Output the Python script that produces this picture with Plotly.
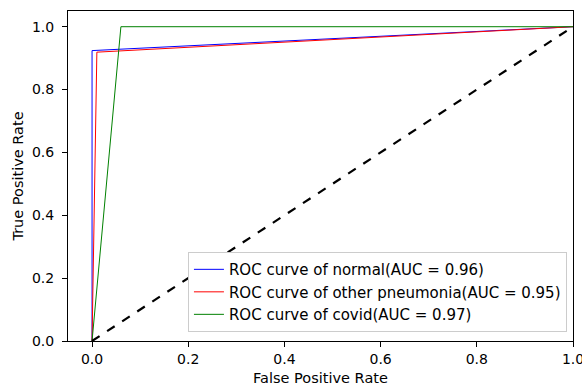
import plotly.graph_objects as go

# Data
normal_fpr = [0.0, 0.0, 1.0]
normal_tpr = [0.0, 0.924, 1.0]
pneu_fpr = [0.0, 0.010, 1.0]
pneu_tpr = [0.0, 0.919, 1.0]
covid_fpr = [0.0, 0.060, 1.0]
covid_tpr = [0.0, 1.0, 1.0]
diag = [0.0, 1.0]

names = ["ROC curve of normal(AUC = 0.96)",
         "ROC curve of other pneumonia(AUC = 0.95)",
         "ROC curve of covid(AUC = 0.97)"]
colors = ["blue", "red", "green"]
ticks = [0, 0.2, 0.4, 0.6, 0.8, 1.0]
tick_labels = ["0.0", "0.2", "0.4", "0.6", "0.8", "1.0"]

fig = go.Figure()
for fx, ty, nm, c in zip([normal_fpr, pneu_fpr, covid_fpr],
                         [normal_tpr, pneu_tpr, covid_tpr], names, colors):
    fig.add_trace(go.Scatter(x=fx, y=ty, mode="lines", name=nm,
                             line=dict(color=c, width=1)))
fig.add_trace(go.Scatter(x=diag, y=diag, mode="lines", showlegend=False,
                         line=dict(color="black", width=2.2, dash="dash")))

tickfont = dict(family="DejaVu Sans", size=14, color="black")
titlefont = dict(family="DejaVu Sans", size=14.5, color="black")
axis_common = dict(showline=True, linecolor="black", linewidth=1, mirror=True,
                   ticks="outside", ticklen=5, tickcolor="black",
                   showgrid=False, zeroline=False, tickfont=tickfont,
                   automargin=False, ticklabeloverflow="allow")
fig.update_xaxes(range=[-0.05, 1.0], tickvals=ticks, ticktext=tick_labels,
                 title=dict(text="False Positive Rate", font=titlefont, standoff=7),
                 **axis_common)
fig.update_yaxes(range=[0.0, 1.05], tickvals=ticks, ticktext=tick_labels,
                 ticklabelstandoff=5,
                 title=dict(text="True Positive Rate", font=titlefont, standoff=4),
                 **axis_common)
fig.update_layout(
    width=582, height=388,
    margin=dict(l=68, r=9, t=11, b=47),
    plot_bgcolor="white", paper_bgcolor="white",
    legend=dict(x=0.988, y=0.027, xanchor="right", yanchor="bottom",
                bgcolor="white", bordercolor="#cccccc", borderwidth=1,
                font=dict(family="DejaVu Sans", size=15, color="black"),
                tracegroupgap=0, itemwidth=30),
)
fig.write_html("out.html", config={"displayModeBar": False},
               post_script="document.body.style.margin='0';document.body.style.overflow='hidden';")
